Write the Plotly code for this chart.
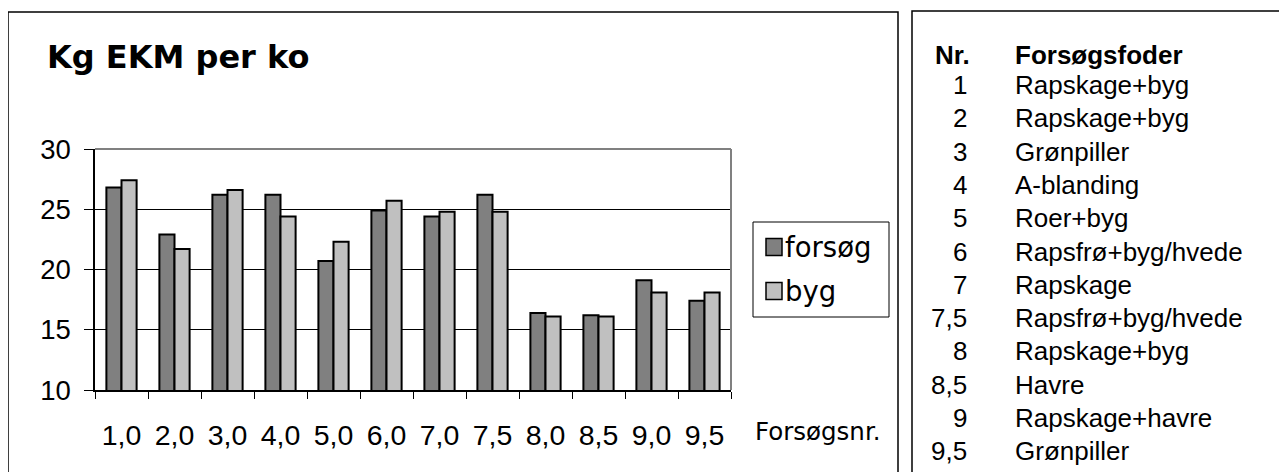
import plotly.graph_objects as go

W, H = 1287, 472
OFF = 8  # page body margin in the browser

# ---- data ----
categories = ["1,0", "2,0", "3,0", "4,0", "5,0", "6,0", "7,0", "7,5", "8,0", "8,5", "9,0", "9,5"]
forsoeg = [26.8, 22.9, 26.2, 26.2, 20.7, 24.9, 24.4, 26.2, 16.4, 16.2, 19.1, 17.4]
byg = [27.4, 21.7, 26.6, 24.4, 22.3, 25.7, 24.8, 24.8, 16.1, 16.1, 18.1, 18.1]
series_names = ["forsøg", "byg"]
series_colors = ["#808080", "#c0c0c0"]
y_ticks = [10, 15, 20, 25, 30]
title_text = "Kg EKM per ko"
x_title = "Forsøgsnr."

table_header = ["Nr.", "Forsøgsfoder"]
table_nr = ["1", "2", "3", "4", "5", "6", "7", "7,5", "8", "8,5", "9", "9,5"]
table_feed = ["Rapskage+byg", "Rapskage+byg", "Grønpiller", "A-blanding", "Roer+byg",
              "Rapsfrø+byg/hvede", "Rapskage", "Rapsfrø+byg/hvede", "Rapskage+byg",
              "Havre", "Rapskage+havre", "Grønpiller"]


def px(x):
    return (x - OFF) / W


def py(y):
    return 1 - (y - OFF) / H


ARIAL = "Liberation Sans, Arial, sans-serif"
WIDE = "DejaVu Sans, sans-serif"

fig = go.Figure()
for name, vals, col in zip(series_names, [forsoeg, byg], series_colors):
    fig.add_trace(go.Bar(
        x=categories, y=vals, name=name,
        marker=dict(color=col, line=dict(color="black", width=2)),
        showlegend=False,
    ))

shapes = []
annotations = []

# outer frames
shapes.append(dict(type="rect", xref="paper", yref="paper",
                   x0=px(8), x1=px(898), y0=py(12), y1=py(500),
                   line=dict(color="black", width=1.5), fillcolor="rgba(0,0,0,0)"))
shapes.append(dict(type="rect", xref="paper", yref="paper",
                   x0=px(912), x1=px(1320), y0=py(11), y1=py(500),
                   line=dict(color="black", width=1.5), fillcolor="rgba(0,0,0,0)"))

# plot-area grey top/right border
shapes.append(dict(type="line", xref="x domain", yref="y domain", x0=0, x1=1, y0=1, y1=1,
                   line=dict(color="#808080", width=2), layer="above"))
shapes.append(dict(type="line", xref="x domain", yref="y domain", x0=1, x1=1, y0=0, y1=1,
                   line=dict(color="#808080", width=2), layer="above"))

# title
annotations.append(dict(text="<b>" + title_text + "</b>", xref="paper", yref="paper",
                        x=px(45), y=py(57), xanchor="left", yanchor="middle",
                        showarrow=False, font=dict(family=WIDE, size=32, color="black")))
# x axis title
annotations.append(dict(text=x_title, xref="paper", yref="paper",
                        x=px(753), y=py(431), xanchor="left", yanchor="middle",
                        showarrow=False, font=dict(family=WIDE, size=24.5, color="black")))

# legend (manual)
shapes.append(dict(type="rect", xref="paper", yref="paper",
                   x0=px(753), x1=px(889), y0=py(222), y1=py(317),
                   line=dict(color="black", width=1), fillcolor="white"))
leg_rows = [247, 291]
for name, col, yc in zip(series_names, series_colors, leg_rows):
    shapes.append(dict(type="rect", xref="paper", yref="paper",
                       x0=px(766), x1=px(782), y0=py(yc - 8.5), y1=py(yc + 8.5),
                       line=dict(color="black", width=1.5), fillcolor=col))
    annotations.append(dict(text=name, xref="paper", yref="paper",
                            x=px(783), y=py(yc), xanchor="left", yanchor="middle",
                            showarrow=False, font=dict(family=WIDE, size=27.5, color="black")))

# right table
annotations.append(dict(text="<b>" + table_header[0] + "</b>", xref="paper", yref="paper",
                        x=px(933), y=py(55), xanchor="left", yanchor="middle",
                        showarrow=False, font=dict(family=ARIAL, size=26, color="black")))
annotations.append(dict(text="<b>" + table_header[1] + "</b>", xref="paper", yref="paper",
                        x=px(1013), y=py(55), xanchor="left", yanchor="middle",
                        showarrow=False, font=dict(family=ARIAL, size=26, color="black")))
for i, (nr, feed) in enumerate(zip(table_nr, table_feed)):
    yc = 85 + 33.3 * i
    annotations.append(dict(text=nr, xref="paper", yref="paper",
                            x=px(969), y=py(yc), xanchor="right", yanchor="middle",
                            showarrow=False, font=dict(family=ARIAL, size=26, color="black")))
    annotations.append(dict(text=feed, xref="paper", yref="paper",
                            x=px(1013), y=py(yc), xanchor="left", yanchor="middle",
                            showarrow=False, font=dict(family=ARIAL, size=26, color="black")))

fig.update_layout(
    template="none",
    width=W, height=H,
    margin=dict(l=0, r=0, t=0, b=0, pad=0, autoexpand=False),
    paper_bgcolor="white", plot_bgcolor="white",
    barmode="group", bargap=0.43, bargroupgap=0,
    shapes=shapes, annotations=annotations,
    showlegend=False,
    xaxis=dict(
        domain=[px(95), px(731)],
        automargin=False,
        type="category", categoryorder="array", categoryarray=categories,
        showline=True, linecolor="black", linewidth=1.5,
        ticks="outside", ticklen=7, tickcolor="black", tickwidth=1,
        tickson="boundaries", showgrid=False,
        tickfont=dict(family=ARIAL, size=28.5, color="black"),
        ticklabelstandoff=19,
    ),
    yaxis=dict(
        domain=[py(390), py(149)],
        automargin=False,
        range=[10, 30], tickvals=y_ticks,
        showline=True, linecolor="black", linewidth=1.5,
        ticks="outside", ticklen=9, tickcolor="black", tickwidth=1,
        showgrid=True, gridcolor="black", gridwidth=1,
        zeroline=False,
        tickfont=dict(family=ARIAL, size=27.5, color="black"),
        ticklabelstandoff=8,
    ),
)

fig.write_html("out.html")
